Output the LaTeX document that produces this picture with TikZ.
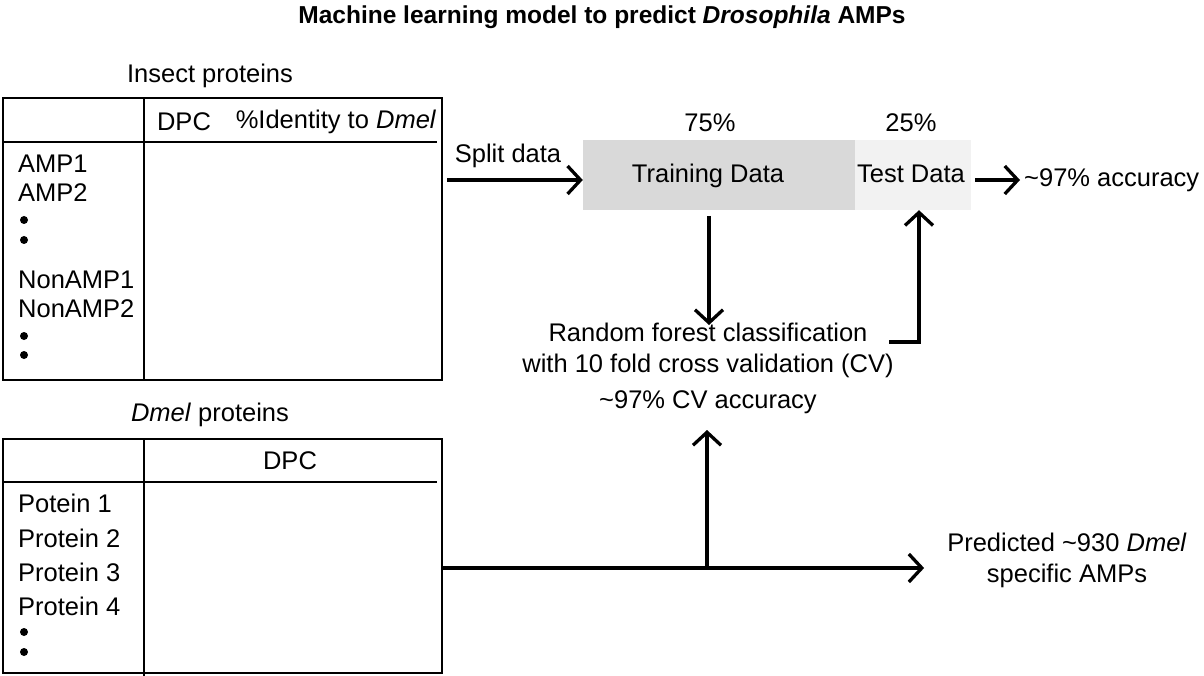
\documentclass[tikz,border=0pt]{standalone}
\usepackage{fontspec}
\setmainfont{Liberation Sans}
\usetikzlibrary{arrows.meta}

\definecolor{traingray}{HTML}{D9D9D9}
\definecolor{testgray}{HTML}{F2F2F2}

\tikzset{
    txt/.style = {inner sep=0pt, font=\fontsize{25.5}{31}\selectfont},
    tablebox/.style = {draw, line width=2.2pt, inner sep=0pt, minimum width=439pt, minimum height=#1},
    rule/.style = {line width=2.2pt},
    flow/.style = {line width=3.3pt, -{Straight Barb[length=13pt,width=28pt]}},
    plain/.style = {line width=3.3pt},
}

\begin{document}
\begin{tikzpicture}[x=1pt, y=-1pt]
    \useasboundingbox (0,0) rectangle (1204,676);
    \def\colx{144}
    \def\rowx{18}

    \node[font=\bfseries\fontsize{24.5}{28}\selectfont] (title) at (602,17)
        {Machine learning model to predict \textit{Drosophila} AMPs};

    % insect proteins table
    \node[txt] (insectlbl) at (210,76) {Insect proteins};
    \node[tablebox=282pt] (insect) at (222.5,239) {};
    \draw[rule] (\colx,98) -- (\colx,380);
    \draw[rule] (3,142) -- (437,142);
    \node[txt] (insectdpc) at (184,122) {DPC};
    \node[txt] (insectid) at (336,122) {\%Identity to \textit{Dmel}};
    \foreach \lbl/\y in {AMP1/164, AMP2/193, NonAMP1/280, NonAMP2/309} {
        \node[txt, anchor=west] (insect-\y) at (\rowx,\y) {\lbl};
    }
    \foreach \y in {220,240,336,355} {
        \fill (24,\y) circle (4pt);
    }

    % dmel proteins table
    \node[txt] (dmellbl) at (210,415) {\textit{Dmel} proteins};
    \node[tablebox=234pt] (dmel) at (222.5,556) {};
    \draw[rule] (\colx,439) -- (\colx,676);
    \draw[rule] (3,482) -- (437,482);
    \node[txt] (dmeldpc) at (290,461) {DPC};
    \foreach \lbl/\y in {Potein 1/503, Protein 2/538, Protein 3/572, Protein 4/606} {
        \node[txt, anchor=west] (dmel-\y) at (\rowx,\y) {\lbl};
    }
    \foreach \y in {632,652} {
        \fill (24,\y) circle (4pt);
    }

    % split
    \node[fill=traingray, minimum width=272pt, minimum height=70pt, inner sep=0pt] (train) at (719,175) {};
    \node[fill=testgray, minimum width=116pt, minimum height=70pt, inner sep=0pt] (test) at (913,175) {};
    \node[txt] (trainlbl) at (708,176) {Training Data};
    \node[txt] (testlbl) at (911,174) {Test Data};
    \node[txt] (trainpct) at (710,123) {75\%};
    \node[txt] (testpct) at (911,123) {25\%};
    \node[txt] (splitlbl) at (508,156) {Split data};
    \node[txt, anchor=west] (acc) at (1024,180) {\char`~97\% accuracy};

    \coordinate (splitstart) at (447,180);
    \draw[flow] (splitstart) -- (train.west |- splitstart);
    \draw[flow] ([xshift=4pt]test.east |- acc.west) -- ([xshift=-4pt]acc.west);

    % classifier
    \node[txt, align=center] (rf) at (708,350)
        {Random forest classification\\with 10 fold cross validation (CV)};
    \node[txt] (cvacc) at (708,402) {\char`~97\% CV accuracy};
    \coordinate (tdown) at (709,216);
    \coordinate (rfin) at (709,325);
    \coordinate (elbow) at (889,342);
    \draw[flow] (tdown) -- (rfin);
    \draw[flow] (elbow) -| ([xshift=6pt]test.south);

    % prediction
    \node[txt, align=center] (pred) at (1067,560)
        {Predicted \char`~930 \textit{Dmel}\\specific AMPs};
    \coordinate (merge) at (707,568);
    \coordinate (cvin) at (707,430);
    \draw[plain] (dmel.east |- merge) -- (merge);
    \draw[flow] (merge) -- ([xshift=-23pt]pred.west |- merge);
    \draw[flow] (merge) -- (cvin);
\end{tikzpicture}
\end{document}
